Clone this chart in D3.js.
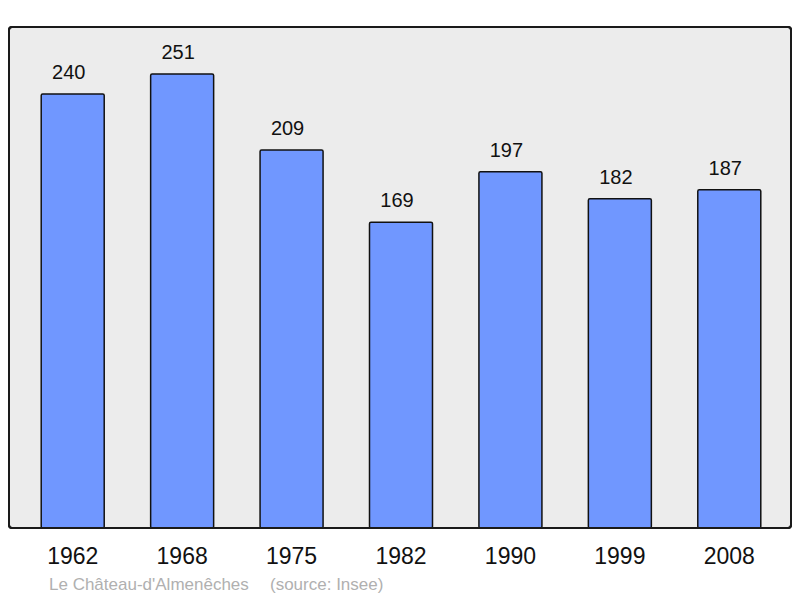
<!DOCTYPE html>
<html><head><meta charset="utf-8">
<script src="https://cdn.jsdelivr.net/npm/d3@7"></script>
<style>body{margin:0;background:#fff}svg{display:block;font-family:"Liberation Sans",Arial,sans-serif}</style>
</head><body>
<script>
const years = ["1962","1968","1975","1982","1990","1999","2008"];
const population = [240,251,209,169,197,182,187];
const place = "Le Château-d'Almenêches";
const source = "(source: Insee)";

const W = 800, H = 598;
const svg = d3.select("body").append("svg").attr("width", W).attr("height", H);
const frame = {l: 9, t: 27, r: 791, b: 528};

svg.append("rect").attr("x", frame.l).attr("y", frame.t)
  .attr("width", frame.r - frame.l).attr("height", frame.b - frame.t)
  .attr("rx", 3).attr("fill", "#ececec").attr("stroke", "#1a1a1a").attr("stroke-width", 2);

const x = d3.scaleBand().domain(years).range([18, 784]);
const y = d3.scaleLinear().domain([0, 277]).range([frame.b, frame.t]);
const bw = 63;

const g = svg.append("g");
g.selectAll("rect.bar").data(years).join("rect").attr("class","bar")
  .attr("x", d => x(d) + x.bandwidth()/2 - bw/2)
  .attr("y", (d,i) => y(population[i]))
  .attr("width", bw)
  .attr("height", (d,i) => frame.b - y(population[i]))
  .attr("rx", 1.5)
  .attr("fill", "#7097ff").attr("stroke", "#111").attr("stroke-width", 1.5);

g.selectAll("text.val").data(years).join("text").attr("class","val")
  .attr("x", d => x(d) + x.bandwidth()/2 - 4)
  .attr("y", (d,i) => y(population[i]) - 15)
  .attr("text-anchor","middle").attr("font-size", 20).attr("fill","#111")
  .text((d,i) => population[i]);

svg.append("rect").attr("x", frame.l).attr("y", frame.t)
  .attr("width", frame.r - frame.l).attr("height", frame.b - frame.t)
  .attr("rx", 3).attr("fill", "none").attr("stroke", "#1a1a1a").attr("stroke-width", 2);

const xAxis = d3.axisBottom(x).tickSize(0).tickPadding(0);
const ax = svg.append("g").attr("transform", `translate(0,${frame.b})`).call(xAxis);
ax.select(".domain").remove();
ax.selectAll("text").attr("font-size", 23).attr("fill","#111")
  .attr("font-family", '"Liberation Sans",Arial,sans-serif').attr("dy", null).attr("y", 36);

svg.append("text").attr("x", 49).attr("y", 590).attr("font-size", 17).attr("fill", "#b0b0b0")
  .text(place);
svg.append("text").attr("x", 270).attr("y", 590).attr("font-size", 17).attr("fill", "#b0b0b0")
  .text(source);
</script>
</body></html>
